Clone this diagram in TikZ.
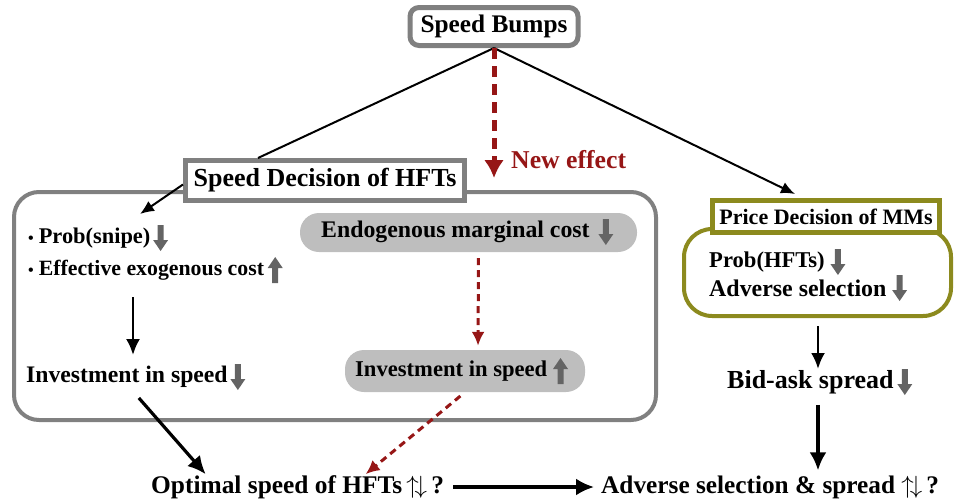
\documentclass[tikz,border=0pt]{standalone}
\usepackage{fontspec}
\setmainfont{Liberation Serif}
\usepackage{tikz}
\usetikzlibrary{arrows.meta,positioning}

\definecolor{effred}{RGB}{150,22,22}
\definecolor{mmolive}{RGB}{140,138,30}
\definecolor{pillgray}{RGB}{190,190,190}
\definecolor{boxgray}{RGB}{128,128,128}
\definecolor{tipgray}{RGB}{100,100,100}

\begin{document}
\begin{tikzpicture}[
  x=1pt, y=-1pt,
  >=Latex,
  link/.style={-{Latex[length=14pt,width=12pt]}, line width=2pt},
  arr/.style={-{Latex[length=16pt,width=14pt]}, line width=2.6pt},
  bigarr/.style={-{Latex[length=18pt,width=17pt]}, line width=3.2pt},
  redarr/.style={-{Latex[length=14pt,width=13pt]}, effred, line width=3pt, dash pattern=on 7pt off 5pt},
  newarr/.style={-{Latex[length=18pt,width=20pt]}, effred, line width=5pt, dash pattern=on 11pt off 7pt},
  title/.style={draw=boxgray, line width=5pt, fill=white, inner sep=0pt, font=\bfseries},
  txt/.style={anchor=west, inner sep=1pt, font=\bfseries},
  pill/.style={fill=pillgray, rounded corners=19pt, inner sep=0pt},
  dnarr/.pic={\fill[tipgray] (-3,-13) rectangle (3,2) (-7.5,2) -- (7.5,2) -- (0,13) -- cycle;},
  uparr/.pic={\fill[tipgray] (-3,13) rectangle (3,-2) (-7.5,-2) -- (7.5,-2) -- (0,-13) -- cycle;},
]
\def\fs#1{\fontsize{#1}{#1}\selectfont}
\def\dotb{{\fs{16}\textbullet}\hspace{5pt}}

\useasboundingbox (0,0) rectangle (955,501);

% frames
\draw[boxgray, line width=4pt, rounded corners=25pt] (14,192) rectangle (656,420);
\draw[mmolive, line width=4pt, rounded corners=28pt] (684,229) rectangle (951,316);

\node[pill, minimum width=337pt, minimum height=39pt] (endpill) at (468.5,232.5) {};
\node[pill, minimum width=240pt, minimum height=42pt] (invpill) at (465,371) {};

% top
\node[title, rounded corners=9pt, minimum width=168pt, minimum height=38pt] (bumps) at (494,26.5) {\fs{25.3}Speed Bumps};
\node[title, minimum width=279pt, minimum height=40pt] (hftbox) at (325,180.5) {\fs{26}Speed Decision of HFTs};
\node[title, draw=mmolive, minimum width=227pt, minimum height=32pt] (mmbox) at (826,216.5) {\fs{22}Price Decision of MMs};

\coordinate (newtip) at (494,178);
\coordinate (mmtip) at (795,194);

\draw[line width=2pt] (bumps.south) -- ([xshift=-67pt]hftbox.north);
\draw[link] (bumps.south) -- (mmtip);
\draw[newarr] (bumps.south) -- (newtip);
\node[txt, text=effred] (neweff) at (510,160) {\fs{25.7}New effect};

% speed decision of HFTs
\node[txt] (snipe) at (27,238) {\fs{22.4}\dotb Prob(snipe)};
\pic at ([xshift=9pt]snipe.east) {dnarr};
\node[txt] (exo) at (27,270) {\fs{21.8}\dotb Effective exogenous cost};
\pic at ([xshift=10pt]exo.east) {uparr};
\node[txt] (invL) at (25,377) {\fs{23.7}Investment in speed};
\pic at ([xshift=9pt]invL.east) {dnarr};

\node[txt] (endtxt) at (320,232) {\fs{23.8}Endogenous marginal cost};
\pic at ([xshift=15pt]endtxt.east) {dnarr};
\node[txt] (invtxt) at (354,371) {\fs{22.6}Investment in speed};
\pic at ([xshift=12pt]invtxt.east) {uparr};

\coordinate (snipetip) at (140,214);
\draw[link] ([yshift=-4pt]hftbox.west) -- (snipetip);
\draw[arr, shorten <=16pt, shorten >=10pt] (exo.south -| 133,0) -- (invL.north -| 133,0);
\draw[redarr, shorten <=6pt, shorten >=4pt] ([xshift=10pt]endpill.south) -- ([xshift=13pt]invpill.north);

% price decision of MMs
\node[txt] (probh) at (708,262) {\fs{22.6}Prob(HFTs)};
\pic at ([xshift=12pt]probh.east) {dnarr};
\node[txt] (advsel) at (708,288) {\fs{23.9}Adverse selection};
\pic at ([xshift=12pt]advsel.east) {dnarr};
\node[txt] (bid) at (726,382) {\fs{26}Bid-ask spread};
\pic at ([xshift=10pt]bid.east) {dnarr};
\coordinate (mmout) at (818,316);
\draw[arr, shorten <=10pt] (mmout) -- (bid.north -| mmout);

% outcomes
\node[txt] (opt) at (150,487) {\fs{25.4}Optimal speed of HFTs\,$\uparrow\!\downarrow$\,?};
\node[txt] (adv) at (600,487) {\fs{25.3}Adverse selection \& spread $\uparrow\!\downarrow$\,?};

\draw[bigarr, shorten <=12pt] ([xshift=4pt]invL.south) -- ([xshift=-92pt]opt.north);
\draw[redarr, shorten <=6pt] (invpill.south) -- ([xshift=68pt]opt.north);
\draw[bigarr, shorten <=8pt, shorten >=6pt] (opt.east) -- (adv.west);
\draw[bigarr, shorten <=10pt, shorten >=4pt] (bid.south -| mmout) -- (adv.north -| mmout);

\end{tikzpicture}
\end{document}
